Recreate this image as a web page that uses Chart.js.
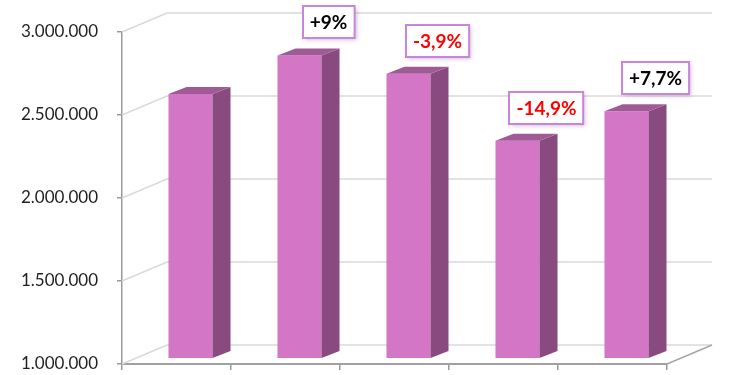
<!DOCTYPE html>
<html>
<head>
<meta charset="utf-8">
<script src="https://cdn.jsdelivr.net/npm/chart.js@4/dist/chart.umd.min.js"></script>
<style>
html,body{margin:0;padding:0;background:#fff;}
#wrap{width:750px;height:375px;}
</style>
</head>
<body>
<div id="wrap"><canvas id="c" width="750" height="375"></canvas></div>
<script>
const categories = ['1', '2', '3', '4', '5'];
const values = [2590000, 2823000, 2713000, 2309000, 2486000];
const changeLabels = ['', '+9%', '-3,9%', '-14,9%', '+7,7%'];
const changeColors = ['#000000', '#000000', '#ff0000', '#ff0000', '#000000'];
const yMin = 1000000, yMax = 3000000, yStep = 500000;

const WALL_DX = 45, WALL_DY = -19;   // depth of the 3D walls
const BAR_DX = 14, BAR_DY = -6;      // front face of bars inside the depth
const BAR_DEPTH_X = 18, BAR_DEPTH_Y = -7;

function fmt(v){ return String(Math.round(v)).replace(/\B(?=(\d{3})+(?!\d))/g, '.'); }

const threeD = {
  id: 'threeD',
  beforeDatasetsDraw(chart){
    const ctx = chart.ctx, a = chart.chartArea, ys = chart.scales.y;
    ctx.save();
    ctx.lineWidth = 1.5;
    for (let v = yMin; v <= yMax; v += yStep){
      const y = ys.getPixelForValue(v);
      ctx.strokeStyle = '#d9d9d9';
      ctx.beginPath();
      ctx.moveTo(a.left, y);
      ctx.lineTo(a.left + WALL_DX, y + WALL_DY);
      ctx.lineTo(a.right + WALL_DX, y + WALL_DY);
      ctx.stroke();
    }
    ctx.strokeStyle = '#a6a6a6';
    ctx.beginPath();
    ctx.moveTo(a.right, a.bottom);
    ctx.lineTo(a.right + WALL_DX, a.bottom + WALL_DY);
    ctx.stroke();
    ctx.restore();
    ctx.save();
    ctx.translate(BAR_DX, BAR_DY);
  },
  afterDatasetsDraw(chart){
    const ctx = chart.ctx, ys = chart.scales.y;
    const meta = chart.getDatasetMeta(0);
    const b = ys.getPixelForValue(yMin);
    meta.data.forEach(el => {
      const l = el.x - el.width/2, r = el.x + el.width/2, t = el.y;
      ctx.fillStyle = '#884a7f';
      ctx.beginPath();
      ctx.moveTo(r, t); ctx.lineTo(r + BAR_DEPTH_X, t + BAR_DEPTH_Y);
      ctx.lineTo(r + BAR_DEPTH_X, b + BAR_DEPTH_Y); ctx.lineTo(r, b);
      ctx.closePath(); ctx.fill();
      ctx.fillStyle = '#a05b97';
      ctx.beginPath();
      ctx.moveTo(l, t); ctx.lineTo(l + BAR_DEPTH_X, t + BAR_DEPTH_Y);
      ctx.lineTo(r + BAR_DEPTH_X, t + BAR_DEPTH_Y); ctx.lineTo(r, t);
      ctx.closePath(); ctx.fill();
    });
    ctx.font = 'bold 19px Lato';
    ctx.textAlign = 'center';
    ctx.textBaseline = 'middle';
    meta.data.forEach((el, i) => {
      const txt = changeLabels[i];
      if (!txt) return;
      const tw = ctx.measureText(txt).width;
      const w = tw + 14, h = 32;
      const cx = el.x + 29, bottom = el.y - 17;
      const x0 = Math.round(cx - w/2), y0 = Math.round(bottom - h);
      ctx.save();
      ctx.shadowColor = 'rgba(140,80,150,0.35)';
      ctx.shadowBlur = 4; ctx.shadowOffsetX = 2; ctx.shadowOffsetY = 2;
      ctx.fillStyle = '#ffffff';
      ctx.fillRect(x0, y0, w, h);
      ctx.restore();
      ctx.strokeStyle = '#c886da';
      ctx.lineWidth = 2;
      ctx.strokeRect(x0, y0, w, h);
      ctx.fillStyle = changeColors[i];
      ctx.fillText(txt, cx, y0 + h/2 + 1);
    });
    ctx.restore();
  }
};

new Chart(document.getElementById('c'), {
  type: 'bar',
  data: {
    labels: categories,
    datasets: [{
      data: values,
      backgroundColor: '#d476c6',
      borderWidth: 0,
      categoryPercentage: 1,
      barPercentage: 0.404
    }]
  },
  options: {
    responsive: false,
    devicePixelRatio: 1,
    animation: false,
    layout: { padding: { top: 32, right: 83, bottom: 0, left: 21 } },
    plugins: { legend: { display: false }, tooltip: { enabled: false } },
    scales: {
      x: {
        ticks: { display: false },
        grid: { drawOnChartArea: false, drawTicks: true, tickLength: 6, color: '#9a9a9a', lineWidth: 1.5 },
        border: { display: true, color: '#a0a0a0', width: 2 },
        afterFit(s){ s.height = 11; }
      },
      y: {
        min: yMin, max: yMax,
        ticks: {
          stepSize: yStep,
          padding: 0,
          crossAlign: 'far',
          color: '#1f1f1f',
          font: { family: 'Lato', size: 17 },
          callback: v => fmt(v)
        },
        grid: { drawOnChartArea: false, drawTicks: true, tickLength: 5, color: '#9a9a9a', lineWidth: 1.5 },
        border: { display: true, color: '#9a9a9a', width: 1.5 },
        afterFit(s){ s.width = 101; }
      }
    }
  },
  plugins: [threeD]
});
</script>
</body>
</html>
